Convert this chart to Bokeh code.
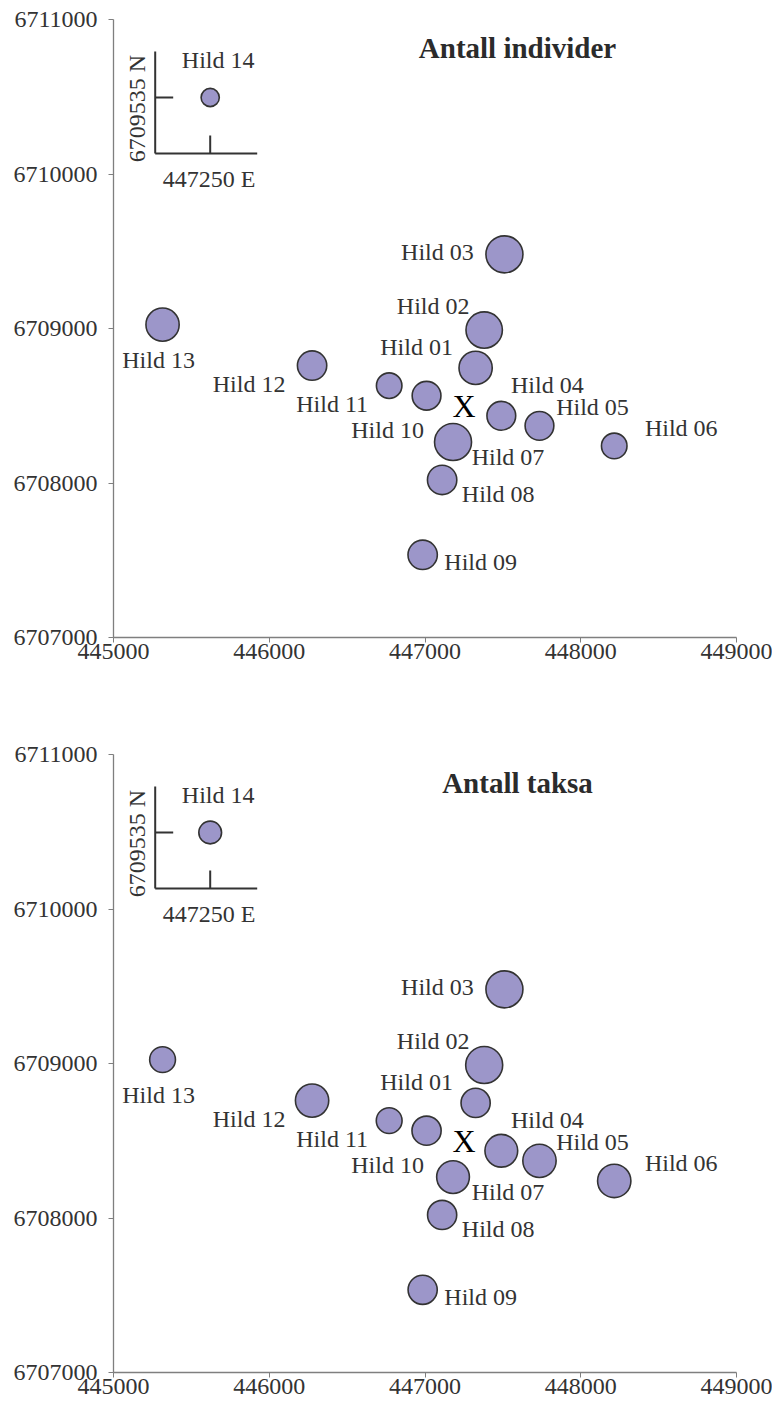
import numpy as np
from bokeh.plotting import figure
from bokeh.models import (Range1d, ColumnDataSource, FixedTicker,
                          NumeralTickFormatter, Label)
from bokeh.layouts import column
from bokeh.embed import file_html
from bokeh.resources import INLINE
from bokeh.core.properties import value

# ---------------- data ----------------
sites = ["Hild 01", "Hild 02", "Hild 03", "Hild 04", "Hild 05", "Hild 06", "Hild 07",
         "Hild 08", "Hild 09", "Hild 10", "Hild 11", "Hild 12", "Hild 13"]
east = [447325, 447380, 447510, 447490, 447735, 448215, 447180,
        447110, 446985, 447010, 446770, 446275, 445315]
north = [6708745, 6708990, 6709480, 6708435, 6708370, 6708240, 6708265,
         6708020, 6707535, 6708565, 6708630, 6708760, 6709025]
individer = [300, 360, 372, 225, 225, 177, 372, 234, 234, 225, 177, 234, 300]
taksa = [23, 37, 37, 29, 30, 30, 29, 23, 23, 23, 18, 30, 18]

hild14_name = "Hild 14"
hild14_east = 447250
hild14_north = 6709535
hild14_individer = 90
hild14_taksa = 14

ref_label = "X"
ref_east = 447250
ref_north = 6708500

x_ticks = [445000, 446000, 447000, 448000, 449000]
y_ticks = [6707000, 6708000, 6709000, 6710000, 6711000]
titles = ["Antall individer", "Antall taksa"]

# ---------------- layout / style ----------------
# label offsets in screen px (dx right, dy down) relative to each bubble
label_dx = [-59, -51, -67, 46, 53, 67, 55, 56, 58, -39, -57, -63, -4]
label_dy = [-21, -24, -2, -31, -19, -18, 15, 14, 7, 34, 18, 18, 35]

FILL = "#9c96c9"
EDGE = "#333333"
TXT = "#333333"
FONT = "Liberation Serif"
D_MAX = 37.0
FRAME_W, FRAME_H = 623, 618
LEFT, RIGHT = 113, 36


def make_chart(title, vals, val14, height, top, bottom):
    p = figure(width=LEFT + FRAME_W + RIGHT, height=height,
               x_range=Range1d(x_ticks[0], x_ticks[-1]),
               y_range=Range1d(y_ticks[0], y_ticks[-1]),
               output_backend="svg", toolbar_location=None,
               min_border_left=LEFT, min_border_right=RIGHT,
               min_border_top=top, min_border_bottom=bottom)
    p.outline_line_color = None
    p.xgrid.visible = False
    p.ygrid.visible = False
    p.background_fill_color = "white"
    p.border_fill_color = "white"

    for ax, ticks in ((p.xaxis, x_ticks), (p.yaxis, y_ticks)):
        ax.ticker = FixedTicker(ticks=ticks)
        ax.formatter = NumeralTickFormatter(format="0")
        ax.minor_tick_line_color = None
        ax.major_tick_in = 0
        ax.major_tick_out = 5
        ax.axis_line_color = "#7f7f7f"
        ax.major_tick_line_color = "#7f7f7f"
        ax.axis_line_width = 1.3
        ax.major_label_text_font = FONT
        ax.major_label_text_font_size = "24px"
        ax.major_label_text_color = TXT
    p.yaxis.major_label_standoff = 11
    p.xaxis.major_label_standoff = 1

    vmax = max(max(vals), val14)
    diam = [D_MAX * np.sqrt(v / vmax) for v in vals]
    src = ColumnDataSource(dict(x=east, y=north, name=sites, d=diam,
                                dx=label_dx, dy=label_dy))
    p.scatter("x", "y", size="d", source=src, fill_color=FILL,
              line_color=EDGE, line_width=1.6)
    p.text("x", "y", text="name", x_offset="dx", y_offset="dy", source=src,
           text_font=value(FONT), text_font_size="24px", text_color=TXT,
           text_align="center", text_baseline="middle")

    p.text(x=[ref_east], y=[ref_north], text=[ref_label],
           text_font=value(FONT), text_font_size="32px", text_color="black",
           text_align="center", text_baseline="middle")

    # title inside the frame (screen units, relative to frame)
    p.add_layout(Label(x=404, y=590, x_units="screen", y_units="screen",
                       text=title, text_font=FONT, text_font_size="29px",
                       text_font_style="bold", text_color="#2b2b2b",
                       text_align="center", text_baseline="middle"))

    # ---- inset for Hild 14 (own ranges, same scale as main map) ----
    sx = (x_ticks[-1] - x_ticks[0]) / FRAME_W
    sy = (y_ticks[-1] - y_ticks[0]) / FRAME_H
    ox, oy = 96.7, 78.0  # inset point position in frame px (from left, from top)
    xs0 = hild14_east - ox * sx
    ye1 = hild14_north + oy * sy
    p.extra_x_ranges = {"inset": Range1d(xs0, xs0 + (x_ticks[-1] - x_ticks[0]))}
    p.extra_y_ranges = {"inset": Range1d(ye1 - (y_ticks[-1] - y_ticks[0]), ye1)}

    def ix(dx):
        return hild14_east + dx * sx

    def iy(dy):
        return hild14_north - dy * sy

    segs = [((-55, -46), (-55, 56)), ((-55, 56), (47, 56)),
            ((-55, 0), (-37, 0)), ((0, 38), (0, 56))]
    p.multi_line(xs=[[ix(a[0]), ix(b[0])] for a, b in segs],
                 ys=[[iy(a[1]), iy(b[1])] for a, b in segs],
                 line_color=EDGE, line_width=2,
                 x_range_name="inset", y_range_name="inset")
    d14 = D_MAX * np.sqrt(val14 / vmax)
    p.scatter(x=[hild14_east], y=[hild14_north], size=d14, fill_color=FILL,
              line_color=EDGE, line_width=1.6,
              x_range_name="inset", y_range_name="inset")
    p.text(x=[hild14_east], y=[hild14_north], text=[hild14_name],
           x_offset=8, y_offset=-38,
           text_font=value(FONT), text_font_size="24px", text_color=TXT,
           text_align="center", text_baseline="middle",
           x_range_name="inset", y_range_name="inset")
    p.text(x=[hild14_east], y=[hild14_north], text=[f"{hild14_east} E"],
           x_offset=-1, y_offset=81,
           text_font=value(FONT), text_font_size="24px", text_color=TXT,
           text_align="center", text_baseline="middle",
           x_range_name="inset", y_range_name="inset")
    p.text(x=[hild14_east], y=[hild14_north], text=[f"{hild14_north} N"],
           x_offset=-73, y_offset=11, angle=np.pi / 2,
           text_font=value(FONT), text_font_size="24px", text_color=TXT,
           text_align="center", text_baseline="middle",
           x_range_name="inset", y_range_name="inset")
    return p


p1 = make_chart(titles[0], individer, hild14_individer, 735, 19, 98)
p2 = make_chart(titles[1], taksa, hild14_taksa, 679, 19, 42)
p = column(p1, p2)

open("out.html", "w").write(file_html(p, INLINE))
